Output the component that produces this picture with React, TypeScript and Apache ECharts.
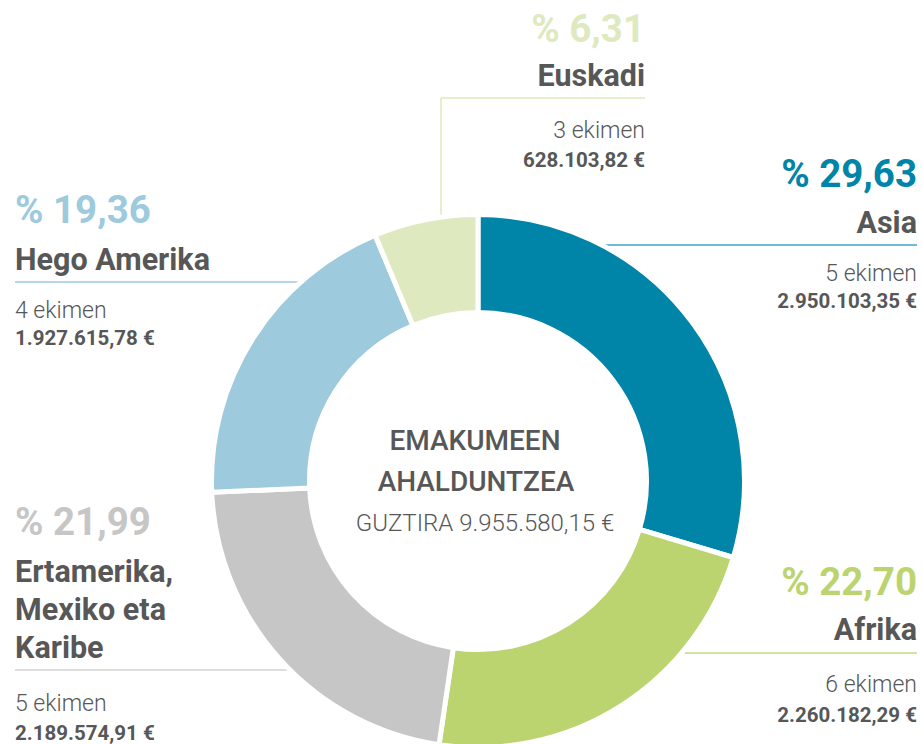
import React, { useEffect, useRef } from "react";
import * as echarts from "echarts";

// ---- Data ----
const regions = ["Asia", "Afrika", "Ertamerika, Mexiko eta Karibe", "Hego Amerika", "Euskadi"];
const nameLines = [["Asia"], ["Afrika"], ["Ertamerika,", "Mexiko eta", "Karibe"], ["Hego Amerika"], ["Euskadi"]];
const amounts = [2950103.35, 2260182.29, 2189574.91, 1927615.78, 628103.82];
const amountLabels = ["2.950.103,35 €", "2.260.182,29 €", "2.189.574,91 €", "1.927.615,78 €", "628.103,82 €"];
const projects = [5, 6, 5, 4, 3];
const percentLabels = ["% 29,63", "% 22,70", "% 21,99", "% 19,36", "% 6,31"];
const centerTitle = ["EMAKUMEEN", "AHALDUNTZEA"];
const totalLabel = "GUZTIRA 9.955.580,15 €";

// ---- Styles / layout ----
const colors = ["#0084a7", "#bcd46f", "#c6c6c6", "#9dcadc", "#dee9bf"];
const lineColors = ["#3aa6c6", "#c4da82", "#d2d2d2", "#9dcadc", "#dee9bf"];
const TEXT = "#575757";
const FONT = "Roboto, 'DejaVu Sans', sans-serif";

type Block = {
  align: "left" | "right";
  x: number;
  pct: number;
  names: number[];
  count: number;
  amount: number;
  lines: number[][];
};
const blocks: Block[] = [
  { align: "right", x: 917, pct: 187, names: [233], count: 282, amount: 308, lines: [[480, 245, 917, 245]] },
  { align: "right", x: 917, pct: 595, names: [640], count: 693, amount: 722, lines: [[560, 653, 917, 653]] },
  { align: "left", x: 15, pct: 535, names: [582, 620, 658], count: 712, amount: 740, lines: [[15, 670, 400, 670]] },
  { align: "left", x: 15, pct: 223, names: [270], count: 319, amount: 345, lines: [[15, 282, 400, 282]] },
  { align: "right", x: 645, pct: 42, names: [86], count: 139, amount: 167, lines: [[441, 98, 645, 98], [441, 98, 441, 300]] },
];

const PCT_FS = 38.5;
const NAME_FS = 30.5;
const COUNT_FS = 23;
const AMT_FS = 20.5;

function txt(x: number, base: number, text: string, fs: number, weight: any, fill: string, align: string) {
  return {
    type: "text",
    z: 10,
    x,
    y: base - fs * 0.36,
    style: {
      text,
      fontSize: fs,
      lineHeight: Math.round(fs * 0.85),
      fontWeight: weight,
      fontFamily: FONT,
      fill,
      align,
      verticalAlign: "middle",
    },
  };
}

export default function App() {
  const ref = useRef<HTMLDivElement>(null);
  useEffect(() => {
    if (!ref.current) return;
    const chart = echarts.init(ref.current, undefined, { renderer: "svg" });
    const elements: any[] = [];
    blocks.forEach((b, i) => {
      b.lines.forEach((l) => {
        elements.push({
          type: "line",
          z: 0,
          shape: { x1: l[0], y1: l[1], x2: l[2], y2: l[3] },
          style: { stroke: lineColors[i], lineWidth: 1.5 },
        });
      });
      elements.push(txt(b.x, b.pct, percentLabels[i], PCT_FS, "bold", colors[i], b.align));
      nameLines[i].forEach((n, j) => {
        elements.push(txt(b.x, b.names[j], n, NAME_FS, "bold", TEXT, b.align));
      });
      elements.push(txt(b.x, b.count, `${projects[i]} ekimen`, COUNT_FS, 300, TEXT, b.align));
      elements.push(txt(b.x, b.amount, amountLabels[i], AMT_FS, "bold", TEXT, b.align));
    });
    elements.push(txt(475, 451, centerTitle[0], 28, 500, TEXT, "center"));
    elements.push(txt(476, 492, centerTitle[1], 28, 500, TEXT, "center"));
    elements.push(txt(485, 532, totalLabel, 24, 300, TEXT, "center"));

    chart.setOption({
      animation: false,
      backgroundColor: "#ffffff",
      graphic: { elements },
      series: [
        {
          type: "pie",
          z: 2,
          center: [478, 481],
          radius: [168.5, 266.5],
          startAngle: 90,
          clockwise: true,
          silent: true,
          label: { show: false },
          labelLine: { show: false },
          itemStyle: { borderColor: "#ffffff", borderWidth: 5 },
          data: regions.map((r, i) => ({
            name: r,
            value: amounts[i],
            itemStyle: { color: colors[i] },
          })),
        },
      ],
    });
    return () => chart.dispose();
  }, []);
  return (
    <div
      ref={ref}
      style={{ position: "absolute", left: 0, top: 0, width: 923, height: 744 }}
    />
  );
}
